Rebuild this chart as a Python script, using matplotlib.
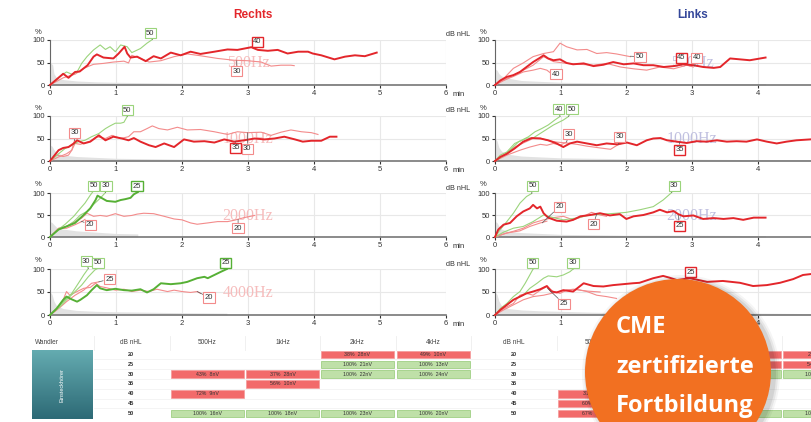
import numpy as np
import matplotlib.pyplot as plt
from matplotlib.patches import Rectangle, Circle
from matplotlib.colors import LinearSegmentedColormap

W, H = 811, 422

# ---- Rechts 500Hz
re500_40_t = [0, 0.2, 0.28, 0.38, 0.45, 0.57, 0.66, 0.71, 0.81, 0.96, 1.04, 1.13, 1.17, 1.22, 1.32, 1.45, 1.57, 1.68, 1.83, 1.98, 2.13, 2.28, 2.49, 2.69, 2.84, 3.05, 3.15, 3.3, 3.45, 3.6, 3.76, 3.91, 3.98, 4.11, 4.31, 4.47, 4.62, 4.77, 4.95]
re500_40_p = [0, 25, 16, 29, 30, 44, 63, 68, 61, 59, 70, 85, 70, 61, 63, 53, 64, 59, 72, 66, 74, 69, 74, 79, 78, 84, 78, 76, 78, 70, 74, 74, 70, 66, 57, 63, 66, 64, 72]
re500_30_t = [0, 0.2, 0.38, 0.51, 0.66, 0.81, 0.96, 1.12, 1.19, 1.24, 1.37, 1.5, 1.68, 1.88, 2.08, 2.28, 2.54, 2.79, 2.99, 3.2, 3.35, 3.5, 3.65, 3.7]
re500_30_p = [0, 16, 24, 37, 46, 48, 51, 53, 49, 66, 59, 51, 54, 63, 69, 65, 59, 55, 54, 51, 42, 44, 44, 43]
re500_50_t = [0, 0.18, 0.25, 0.33, 0.41, 0.48, 0.56, 0.66, 0.76, 0.84, 0.91, 0.99, 1.07, 1.17, 1.24, 1.37, 1.47, 1.55]
re500_50_p = [0, 22, 29, 24, 29, 48, 63, 78, 89, 79, 85, 74, 89, 85, 72, 81, 93, 101]
re500_gray_t = [0, 0.04, 0.06, 0.1, 0.2, 0.4, 0.7, 1, 1.5, 2, 3, 4, 4.95]
re500_gray_p = [50, 45, 25, 16, 12, 9, 7, 6, 5, 4, 3.5, 3, 3]

# ---- Rechts 1000Hz
re1k_35_t = [0, 0.13, 0.2, 0.28, 0.36, 0.41, 0.51, 0.61, 0.74, 0.84, 0.96, 1.09, 1.19, 1.27, 1.37, 1.5, 1.6, 1.73, 1.88, 2.03, 2.18, 2.34, 2.49, 2.64, 2.79, 2.94, 3.1, 3.25, 3.4, 3.55, 3.71, 3.83, 3.96, 4.11, 4.24, 4.34]
re1k_35_p = [0, 24, 29, 31, 39, 46, 39, 43, 57, 46, 54, 50, 46, 51, 43, 35, 31, 39, 31, 48, 43, 44, 41, 48, 43, 46, 50, 48, 50, 54, 48, 43, 45, 45, 54, 54]
re1k_30a_t = [0, 0.13, 0.25, 0.33, 0.38, 0.46, 0.61, 0.71, 0.84, 0.94, 1.07, 1.19, 1.27, 1.37, 1.47, 1.55, 1.65, 1.78, 1.93, 2.08, 2.28, 2.49, 2.69, 2.84, 2.99, 3.2, 3.35, 3.5, 3.65, 3.81, 3.96, 4.06]
re1k_30a_p = [0, 9, 16, 24, 39, 37, 44, 54, 50, 57, 50, 54, 65, 65, 72, 78, 72, 69, 75, 69, 70, 65, 59, 65, 63, 64, 57, 64, 69, 65, 63, 59]
re1k_30b_t = [0, 0.1, 0.2, 0.28, 0.33, 0.37]
re1k_30b_p = [0, 13, 10, 13, 24, 45]
re1k_50_t = [0, 0.13, 0.23, 0.33, 0.43, 0.53, 0.63, 0.74, 0.84, 0.91, 0.99, 1.07, 1.12, 1.17]
re1k_50_p = [0, 16, 28, 35, 43, 46, 54, 61, 72, 78, 84, 84, 86, 99]
re1k_gray_t = [0, 0.03, 0.06, 0.1, 0.2, 0.4, 0.7, 1, 1.5, 2, 3, 4.34]
re1k_gray_p = [35, 33, 25, 18, 13, 10, 8, 6, 5, 4, 3, 2]

# ---- Rechts 2000Hz
re2k_25_t = [0, 0.13, 0.25, 0.38, 0.51, 0.61, 0.69, 0.72, 0.79, 0.86, 0.99, 1.07, 1.14, 1.22, 1.27, 1.33]
re2k_25_p = [0, 17, 24, 32, 50, 65, 84, 94, 88, 82, 80, 84, 86, 89, 97, 102]
re2k_50_t = [0, 0.1, 0.23, 0.36, 0.46, 0.53, 0.61, 0.65]
re2k_50_p = [0, 14, 29, 47, 65, 77, 95, 103]
re2k_30_t = [0, 0.15, 0.25, 0.36, 0.46, 0.56, 0.66, 0.76, 0.84]
re2k_30_p = [0, 20, 24, 35, 50, 58, 74, 88, 101]
re2k_20a_t = [0, 0.13, 0.25, 0.38, 0.48, 0.56, 0.66, 0.76, 0.86, 0.99, 1.12, 1.24, 1.32, 1.42, 1.57, 1.73, 1.88, 2.0, 2.13, 2.23, 2.39, 2.54, 2.69, 2.79, 2.94, 3.1]
re2k_20a_p = [0, 20, 24, 35, 43, 54, 47, 49, 47, 53, 47, 49, 52, 54, 53, 47, 41, 39, 32, 29, 32, 35, 35, 38, 44, 49]
re2k_20b_t = [0, 0.13, 0.25, 0.38, 0.48, 0.53]
re2k_20b_p = [0, 19, 20, 28, 35, 40]
re2k_gray_t = [0, 0.03, 0.06, 0.1, 0.2, 0.4, 0.7, 1.0, 1.33]
re2k_gray_p = [35, 33, 28, 22, 18, 14, 11, 8, 7]

# ---- Rechts 4000Hz
re4k_25_t = [0, 0.1, 0.2, 0.25, 0.33, 0.41, 0.46, 0.56, 0.63, 0.71, 0.76, 0.86, 0.99, 1.12, 1.24, 1.37, 1.47, 1.57, 1.68, 1.83, 1.98, 2.08, 2.23, 2.34, 2.39, 2.49, 2.59, 2.68]
re4k_25_p = [0, 14, 33, 40, 34, 29, 33, 43, 54, 65, 58, 54, 57, 54, 53, 56, 49, 56, 69, 67, 69, 72, 80, 83, 80, 87, 94, 100]
re4k_20_t = [0, 0.1, 0.2, 0.25, 0.3, 0.41, 0.51, 0.61, 0.69, 0.76, 0.86, 0.99, 1.12, 1.24, 1.37, 1.5, 1.62, 1.78, 1.88, 2.0, 2.13, 2.23, 2.28]
re4k_20_p = [0, 11, 33, 51, 43, 51, 58, 60, 69, 62, 59, 54, 56, 51, 54, 51, 56, 51, 54, 51, 49, 51, 47]
re4k_25r_t = [0, 0.13, 0.25, 0.38, 0.51, 0.63, 0.74]
re4k_25r_p = [0, 14, 29, 43, 54, 69, 72]
re4k_30_t = [0, 0.13, 0.23, 0.33, 0.43, 0.51, 0.58]
re4k_30_p = [0, 18, 33, 47, 69, 87, 101]
re4k_50_t = [0, 0.15, 0.25, 0.38, 0.48, 0.58, 0.68, 0.72]
re4k_50_p = [0, 18, 33, 51, 65, 83, 98, 101]
re4k_gray_t = [0, 0.03, 0.06, 0.1, 0.2, 0.4, 0.7, 1, 1.5, 2, 2.68]
re4k_gray_p = [50, 45, 30, 20, 14, 10, 8, 7, 6, 5, 4]

# ---- Links 500Hz
li500_45_t = [0, 0.08, 0.18, 0.28, 0.38, 0.48, 0.58, 0.69, 0.74, 0.81, 0.89, 0.99, 1.09, 1.19, 1.35, 1.5, 1.65, 1.8, 1.96, 2.11, 2.26, 2.41, 2.57, 2.72, 2.87, 3.02, 3.17, 3.33, 3.43, 3.58, 3.73, 3.88, 4.04, 4.12]
li500_45_p = [0, 10, 18, 22, 29, 40, 51, 61, 66, 59, 55, 57, 49, 46, 48, 42, 45, 51, 46, 48, 44, 44, 40, 42, 46, 44, 40, 38, 40, 59, 57, 55, 59, 61]
li500_50_t = [0, 0.13, 0.28, 0.43, 0.58, 0.74, 0.89, 0.99, 1.09, 1.25, 1.4, 1.55, 1.7, 1.85, 2.06]
li500_50_p = [0, 14, 37, 49, 63, 70, 74, 93, 85, 78, 79, 70, 72, 69, 63]
li500_40a_t = [0, 0.13, 0.28, 0.43, 0.58, 0.69, 0.79, 0.86]
li500_40a_p = [0, 10, 19, 29, 33, 37, 33, 25]
li500_40b_t = [0, 0.18, 0.38, 0.58, 0.74, 0.89, 1.09, 1.29, 1.5, 1.7, 1.91, 2.11, 2.31, 2.51, 2.72, 2.92, 3.02]
li500_40b_p = [0, 14, 29, 44, 63, 52, 48, 46, 44, 48, 40, 36, 33, 40, 36, 44, 40]
li500_gray_t = [0, 0.03, 0.06, 0.1, 0.2, 0.4, 0.7, 1, 1.5, 2, 3, 4.12]
li500_gray_p = [35, 33, 25, 20, 15, 10, 8, 6, 5, 4, 3, 3]

# ---- Links 1000Hz
li1k_35_t = [0, 0.08, 0.18, 0.3, 0.43, 0.56, 0.69, 0.81, 0.94, 1.04, 1.14, 1.25, 1.4, 1.55, 1.7, 1.86, 2.01, 2.16, 2.31, 2.41, 2.52, 2.62, 2.77, 2.92, 3.07, 3.22, 3.38, 3.53, 3.68, 3.83, 3.99, 4.14, 4.29, 4.44, 4.59, 4.8]
li1k_35_p = [0, 9, 16, 28, 43, 51, 50, 46, 39, 31, 39, 43, 39, 35, 39, 37, 41, 35, 46, 50, 51, 46, 43, 40, 44, 43, 46, 43, 44, 43, 48, 43, 39, 43, 46, 48]
li1k_30a_t = [0, 0.13, 0.28, 0.43, 0.58, 0.69, 0.79, 0.94, 1.09, 1.25, 1.4, 1.6, 1.76, 1.86, 1.93]
li1k_30a_p = [0, 13, 29, 40, 50, 51, 46, 42, 40, 37, 33, 29, 26, 35, 39]
li1k_30b_t = [0, 0.18, 0.38, 0.53, 0.69, 0.79, 0.89, 0.99, 1.09]
li1k_30b_p = [0, 13, 24, 31, 37, 35, 39, 35, 42]
li1k_40_t = [0, 0.08, 0.18, 0.3, 0.41, 0.51, 0.61, 0.71, 0.81, 0.91, 0.99]
li1k_40_p = [0, 13, 20, 39, 46, 54, 65, 72, 80, 91, 99]
li1k_50_t = [0, 0.1, 0.23, 0.36, 0.48, 0.58, 0.74, 0.89, 1.04, 1.12]
li1k_50_p = [0, 9, 24, 43, 51, 51, 66, 80, 91, 99]
li1k_gray_t = [0, 0.03, 0.06, 0.1, 0.2, 0.4, 0.7, 1, 1.5, 2, 3, 4, 4.81]
li1k_gray_p = [50, 45, 30, 22, 15, 11, 9, 7, 6, 5, 4, 3, 3]

# ---- Links 2000Hz
li2k_25_t = [0, 0.05, 0.13, 0.23, 0.33, 0.43, 0.53, 0.58, 0.64, 0.69, 0.74, 0.81, 0.94, 1.09, 1.19, 1.3, 1.45, 1.6, 1.75, 1.9, 2.0, 2.11, 2.26, 2.41, 2.51, 2.62, 2.72, 2.79, 2.87, 3.02, 3.17, 3.33, 3.48, 3.63, 3.78, 3.94, 4.12]
li2k_25_p = [0, 17, 28, 32, 47, 58, 65, 73, 65, 69, 54, 44, 37, 35, 39, 47, 50, 54, 49, 52, 41, 47, 50, 56, 62, 56, 59, 52, 47, 49, 41, 43, 41, 43, 39, 44, 44]
li2k_30_t = [0, 0.13, 0.28, 0.43, 0.58, 0.74, 0.89, 1.04, 1.24, 1.45, 1.65, 1.85, 2.0, 2.21, 2.41, 2.56, 2.69]
li2k_30_p = [0, 11, 20, 24, 35, 50, 44, 39, 43, 50, 52, 54, 56, 62, 69, 84, 101]
li2k_50_t = [0, 0.08, 0.18, 0.28, 0.38, 0.48, 0.56]
li2k_50_p = [0, 17, 35, 54, 77, 92, 99]
li2k_20a_t = [0, 0.13, 0.28, 0.43, 0.58, 0.74, 0.89, 1.04, 1.19, 1.35, 1.47, 1.6, 1.7]
li2k_20a_p = [0, 7, 13, 20, 32, 39, 44, 47, 39, 47, 56, 50, 47]
li2k_20b_t = [0, 0.18, 0.38, 0.53, 0.69, 0.79]
li2k_20b_p = [0, 9, 14, 24, 32, 36]
li2k_gray_t = [0, 0.03, 0.06, 0.1, 0.2, 0.4, 0.7, 1, 1.5, 2, 3, 4.12]
li2k_gray_p = [35, 33, 25, 18, 13, 10, 8, 6, 5, 4, 4, 3]

# ---- Links 4000Hz
li4k_25_t = [0, 0.08, 0.18, 0.28, 0.38, 0.48, 0.58, 0.69, 0.79, 0.86, 0.94, 1.04, 1.19, 1.35, 1.5, 1.65, 1.8, 1.95, 2.1, 2.2, 2.41, 2.56, 2.66, 2.77, 2.97, 3.23, 3.47, 3.73, 3.93, 4.14, 4.34, 4.54, 4.69, 4.81]
li4k_25_p = [0, 11, 22, 33, 40, 47, 51, 56, 63, 51, 49, 54, 51, 69, 63, 62, 65, 67, 69, 70, 80, 85, 81, 76, 80, 72, 74, 70, 63, 65, 70, 78, 87, 89]
li4k_25r_t = [0, 0.13, 0.28, 0.38, 0.48, 0.58, 0.69, 0.79, 0.89, 0.99, 1.09, 1.24, 1.4, 1.55, 1.7, 1.85]
li4k_25r_p = [0, 14, 25, 43, 47, 43, 54, 62, 51, 47, 54, 56, 51, 43, 40, 36]
li4k_xr_t = [0, 0.13, 0.28, 0.43, 0.58, 0.74, 0.89, 1.04, 1.19, 1.4, 1.6]
li4k_xr_p = [0, 11, 22, 33, 40, 43, 48, 53, 56, 52, 50]
li4k_50_t = [0, 0.08, 0.18, 0.28, 0.38, 0.46, 0.53, 0.58]
li4k_50_p = [0, 14, 25, 40, 51, 69, 87, 100]
li4k_30_t = [0, 0.13, 0.28, 0.43, 0.53, 0.64, 0.74, 0.81, 0.94, 1.04, 1.14, 1.19]
li4k_30_p = [0, 18, 33, 43, 58, 69, 80, 85, 83, 87, 94, 100]
li4k_gray_t = [0, 0.03, 0.06, 0.1, 0.2, 0.4, 0.7, 1, 1.5, 2, 3, 4, 4.81]
li4k_gray_p = [50, 45, 30, 20, 14, 11, 9, 8, 6, 5, 4, 4, 3]

# ---- table
levels = ["20", "25", "30", "35", "40", "45", "50"]
freq_cols = ["500Hz", "1kHz", "2kHz", "4kHz"]
re_cells = [(0, 2, "38%  28nV", 0), (0, 3, "49%  10nV", 0), (1, 2, "100%  21nV", 1), (1, 3, "100%  13nV", 1),
            (2, 0, "43%  8nV", 0), (2, 1, "37%  28nV", 0), (2, 2, "100%  22nV", 1), (2, 3, "100%  24nV", 1),
            (3, 1, "56%  10nV", 0), (4, 0, "72%  9nV", 0),
            (6, 0, "100%  16nV", 1), (6, 1, "100%  18nV", 1), (6, 2, "100%  23nV", 1), (6, 3, "100%  20nV", 1)]
li_cells = [(4, 0, "31%  9nV", 0), (5, 0, "60%  12nV", 0), (6, 0, "67%  14nV", 0),
            (0, 2, "35%  11nV", 0), (1, 2, "52%  9nV", 0), (2, 2, "100%  19nV", 1), (6, 2, "100%  21nV", 1),
            (0, 3, "28%  9nV", 0), (1, 3, "54%  12nV", 0), (2, 3, "100%  17nV", 1), (6, 3, "100%  22nV", 1)]

styles = {
    'tr': dict(color='#e3262b', lw=1.4, zorder=4),
    'nr': dict(color='#f38b8b', lw=0.8, zorder=3),
    'ng': dict(color='#9bd47c', lw=0.8, zorder=3),
    'tg': dict(color='#56b035', lw=1.4, zorder=4),
}
box_ec = {'tr': ('#e3262b', 1.0), 'nr': ('#f38b8b', 0.8), 'ng': ('#9bd47c', 0.8), 'tg': ('#56b035', 1.0)}

panels = [
    ('R', 0, '500Hz', (re500_gray_t, re500_gray_p),
     [(re500_30_t, re500_30_p, 'nr'), (re500_50_t, re500_50_p, 'ng'), (re500_40_t, re500_40_p, 'tr')],
     [('50', 'ng', 1.52, 115, 1.55, 101), ('40', 'tr', 3.14, 96, 3.1, 84), ('30', 'nr', 2.83, 31, 2.83, 54)]),
    ('R', 1, '1000Hz', (re1k_gray_t, re1k_gray_p),
     [(re1k_30a_t, re1k_30a_p, 'nr'), (re1k_30b_t, re1k_30b_p, 'nr'), (re1k_50_t, re1k_50_p, 'ng'), (re1k_35_t, re1k_35_p, 'tr')],
     [('50', 'ng', 1.17, 113, 1.17, 99), ('30', 'nr', 0.37, 63, 0.37, 45), ('35', 'tr', 2.81, 29, 2.81, 43),
      ('30', 'nr', 2.99, 27, 2.99, 63)]),
    ('R', 2, '2000Hz', (re2k_gray_t, re2k_gray_p),
     [(re2k_20a_t, re2k_20a_p, 'nr'), (re2k_20b_t, re2k_20b_p, 'nr'), (re2k_50_t, re2k_50_p, 'ng'), (re2k_30_t, re2k_30_p, 'ng'), (re2k_25_t, re2k_25_p, 'tg')],
     [('50', 'ng', 0.66, 116, 0.65, 103), ('30', 'ng', 0.85, 116, 0.84, 101), ('25', 'tg', 1.32, 115, 1.33, 102),
      ('20', 'nr', 0.61, 28, 0.47, 36), ('20', 'nr', 2.85, 20, 2.85, 40)]),
    ('R', 3, '4000Hz', (re4k_gray_t, re4k_gray_p),
     [(re4k_20_t, re4k_20_p, 'nr'), (re4k_25r_t, re4k_25r_p, 'nr'), (re4k_30_t, re4k_30_p, 'ng'), (re4k_50_t, re4k_50_p, 'ng'), (re4k_25_t, re4k_25_p, 'tg')],
     [('30', 'ng', 0.55, 117, 0.58, 101), ('50', 'ng', 0.73, 114, 0.72, 101), ('25', 'nr', 0.9, 78, 0.74, 72),
      ('25', 'tg', 2.66, 114, 2.68, 100), ('20', 'nr', 2.41, 38, 2.23, 51)]),
    ('L', 0, '500Hz', (li500_gray_t, li500_gray_p),
     [(li500_50_t, li500_50_p, 'nr'), (li500_40a_t, li500_40a_p, 'nr'), (li500_40b_t, li500_40b_p, 'nr'), (li500_45_t, li500_45_p, 'tr')],
     [('40', 'nr', 0.93, 24, 0.86, 26), ('50', 'nr', 2.21, 63, 2.06, 64), ('45', 'tr', 2.84, 61, 2.84, 46),
      ('40', 'nr', 3.07, 61, 3.04, 42)]),
    ('L', 1, '1000Hz', (li1k_gray_t, li1k_gray_p),
     [(li1k_30a_t, li1k_30a_p, 'nr'), (li1k_30b_t, li1k_30b_p, 'nr'), (li1k_40_t, li1k_40_p, 'ng'), (li1k_50_t, li1k_50_p, 'ng'), (li1k_35_t, li1k_35_p, 'tr')],
     [('40', 'ng', 0.97, 115, 0.99, 99), ('50', 'ng', 1.17, 115, 1.12, 99), ('30', 'nr', 1.12, 59, 1.09, 42),
      ('30', 'nr', 1.9, 54, 1.88, 37), ('35', 'tr', 2.81, 25, 2.81, 42)]),
    ('L', 2, '2000Hz', (li2k_gray_t, li2k_gray_p),
     [(li2k_20a_t, li2k_20a_p, 'nr'), (li2k_20b_t, li2k_20b_p, 'nr'), (li2k_50_t, li2k_50_p, 'ng'), (li2k_30_t, li2k_30_p, 'ng'), (li2k_25_t, li2k_25_p, 'tr')],
     [('50', 'ng', 0.57, 116, 0.56, 99), ('30', 'ng', 2.73, 116, 2.69, 101), ('20', 'nr', 0.98, 69, 0.72, 32),
      ('20', 'nr', 1.5, 29, 1.55, 53), ('25', 'tr', 2.81, 26, 2.79, 50)]),
    ('L', 3, '4000Hz', (li4k_gray_t, li4k_gray_p),
     [(li4k_xr_t, li4k_xr_p, 'nr'), (li4k_25r_t, li4k_25r_p, 'nr'), (li4k_50_t, li4k_50_p, 'ng'), (li4k_30_t, li4k_30_p, 'ng'), (li4k_25_t, li4k_25_p, 'tr')],
     [('50', 'ng', 0.57, 114, 0.58, 100), ('30', 'ng', 1.19, 114, 1.19, 100), ('25', 'nr', 1.05, 24, 0.8, 58),
      ('25', 'tr', 2.98, 93, 2.98, 80)]),
]

fig = plt.figure(figsize=(W / 100, H / 100), dpi=100)
plt.rcParams['font.family'] = ['Liberation Sans', 'DejaVu Sans']

row_top = [40, 116, 193, 269]
row_h = [45, 45, 44, 46]
side_x = {'R': (50, 396), 'L': (495, 394)}
mark_col = {'R': '#f6bcbc', 'L': '#c0c0e0'}

for side, row, fname, gray, curves, labels in panels:
    x0, w = side_x[side]
    ax = fig.add_axes([x0 / W, 1 - (row_top[row] + row_h[row]) / H, w / W, row_h[row] / H])
    ax.set_xlim(0, 6)
    ax.set_ylim(0, 100)
    ax.set_xticks(range(7))
    ax.set_yticks([0, 50, 100])
    ax.tick_params(labelsize=5.5, length=2, pad=1.5, colors='#333333')
    ax.grid(True, color='#e8e8e8', lw=0.8)
    ax.set_axisbelow(True)
    for s in ['top', 'right']:
        ax.spines[s].set_visible(False)
    ax.spines['left'].set_color('#666666')
    ax.spines['bottom'].set_color('#777777')
    ax.spines['bottom'].set_linewidth(1.2)
    ax.fill_between(gray[0], 0, gray[1], color='#e2e2e2', lw=0, zorder=1)
    ax.text(3.0, 48, fname, family='Liberation Serif', fontsize=11.5, color=mark_col[side],
            ha='center', va='center', zorder=1.5)
    for t, p, st in curves:
        ax.plot(t, p, clip_on=False, **styles[st])
    for txt, st, lx, ly, axx, ayy in labels:
        ec, lw = box_ec[st]
        ax.annotate(txt, xy=(axx, ayy), xytext=(lx, ly), fontsize=5.5, ha='center', va='center',
                    color='#333333', annotation_clip=False, zorder=6,
                    bbox=dict(boxstyle='square,pad=0.2', fc='white', ec=ec, lw=lw),
                    arrowprops=dict(arrowstyle='-', color='#555555', lw=0.5, shrinkA=0, shrinkB=0))
    ax.text(-0.03, 1 + 8 / row_h[row], '%', transform=ax.transAxes, fontsize=5.5, ha='center', va='center',
            color='#333333')
    if side == 'R':
        ax.text(6.1, -13, 'min', fontsize=5.5, ha='left', va='top', color='#333333', clip_on=False)
        ax.text(1.0, 1 + 5 / row_h[row], 'dB nHL', transform=ax.transAxes, fontsize=5.2, ha='left', va='center',
                color='#333333')

# ---- overlay: titles, table, badge
ov = fig.add_axes([0, 0, 1, 1], zorder=10)
ov.patch.set_alpha(0)
ov.axis('off')

ov.text(253, 15, 'Rechts', fontsize=8.5, weight='bold', color='#e3262b', ha='center', va='center')
ov.text(693, 15, 'Links', fontsize=8.5, weight='bold', color='#34479a', ha='center', va='center')

row_y = [354.5 + 9.8 * i for i in range(7)]
ov.text(35, 343, 'Wandler', fontsize=4.7, color='#444444', ha='left', va='center')
for xc in [131, 514]:
    ov.text(xc, 343, 'dB nHL', fontsize=4.7, color='#444444', ha='center', va='center')
    for lv, y in zip(levels, row_y):
        ov.text(xc, y, lv, fontsize=4.0, weight='bold', color='#333333', ha='center', va='center')
left_cols = [170, 245, 320, 396]
right_cols = [557, 632, 707, 782]
for cols in [left_cols, right_cols]:
    for f, cx in zip(freq_cols, cols):
        ov.text(cx + 37.5, 343, f, fontsize=4.7, color='#444444', ha='center', va='center')
for xv in [94, 170, 245, 320, 396, 471, 557, 632, 707, 782]:
    ov.plot([xv, xv], [336, 350], color='#eeeeee', lw=0.6)
for y in row_y[:-1]:
    ov.plot([94, W], [y + 4.9, y + 4.9], color='#f0f0f0', lw=0.5)

for cells, cols in [(re_cells, left_cols), (li_cells, right_cols)]:
    for r, c, txt, ok in cells:
        fc = '#bfe0a8' if ok else '#f26a6a'
        ec = '#92c973' if ok else '#f59a9a'
        ov.add_patch(Rectangle((cols[c] + 1, row_y[r] - 3.8), 73, 7.6, fc=fc, ec=ec, lw=0.5))
        ov.text(cols[c] + 37.5, row_y[r], txt, fontsize=3.8, color='#333333', ha='center', va='center')

teal = LinearSegmentedColormap.from_list('teal', ['#64abb0', '#2d6a76'])
ov.imshow(np.linspace(0, 1, 60).reshape(-1, 1), extent=(32, 93, 419, 350), cmap=teal,
          aspect='auto', origin='upper')
ov.text(62, 385, 'Einsteckhörer', fontsize=4.0, color='white', rotation=90, ha='center', va='center')

for k, a in [(6, 0.04), (4, 0.06), (2, 0.08)]:
    ov.add_patch(Circle((681, 374), 93 + k, color='black', alpha=a, lw=0, zorder=20))
ov.add_patch(Circle((678, 372), 93, color='#f27021', lw=0, zorder=21))
for txt, y in [('CME', 327), ('zertifizierte', 367), ('Fortbildung', 406)]:
    ov.text(616, y, txt, fontsize=17, weight='bold', color='white', ha='left', va='center',
            family=['Open Sans', 'DejaVu Sans'], zorder=22)

ov.set_xlim(0, W)
ov.set_ylim(H, 0)

fig.savefig('out.png', dpi=100)
